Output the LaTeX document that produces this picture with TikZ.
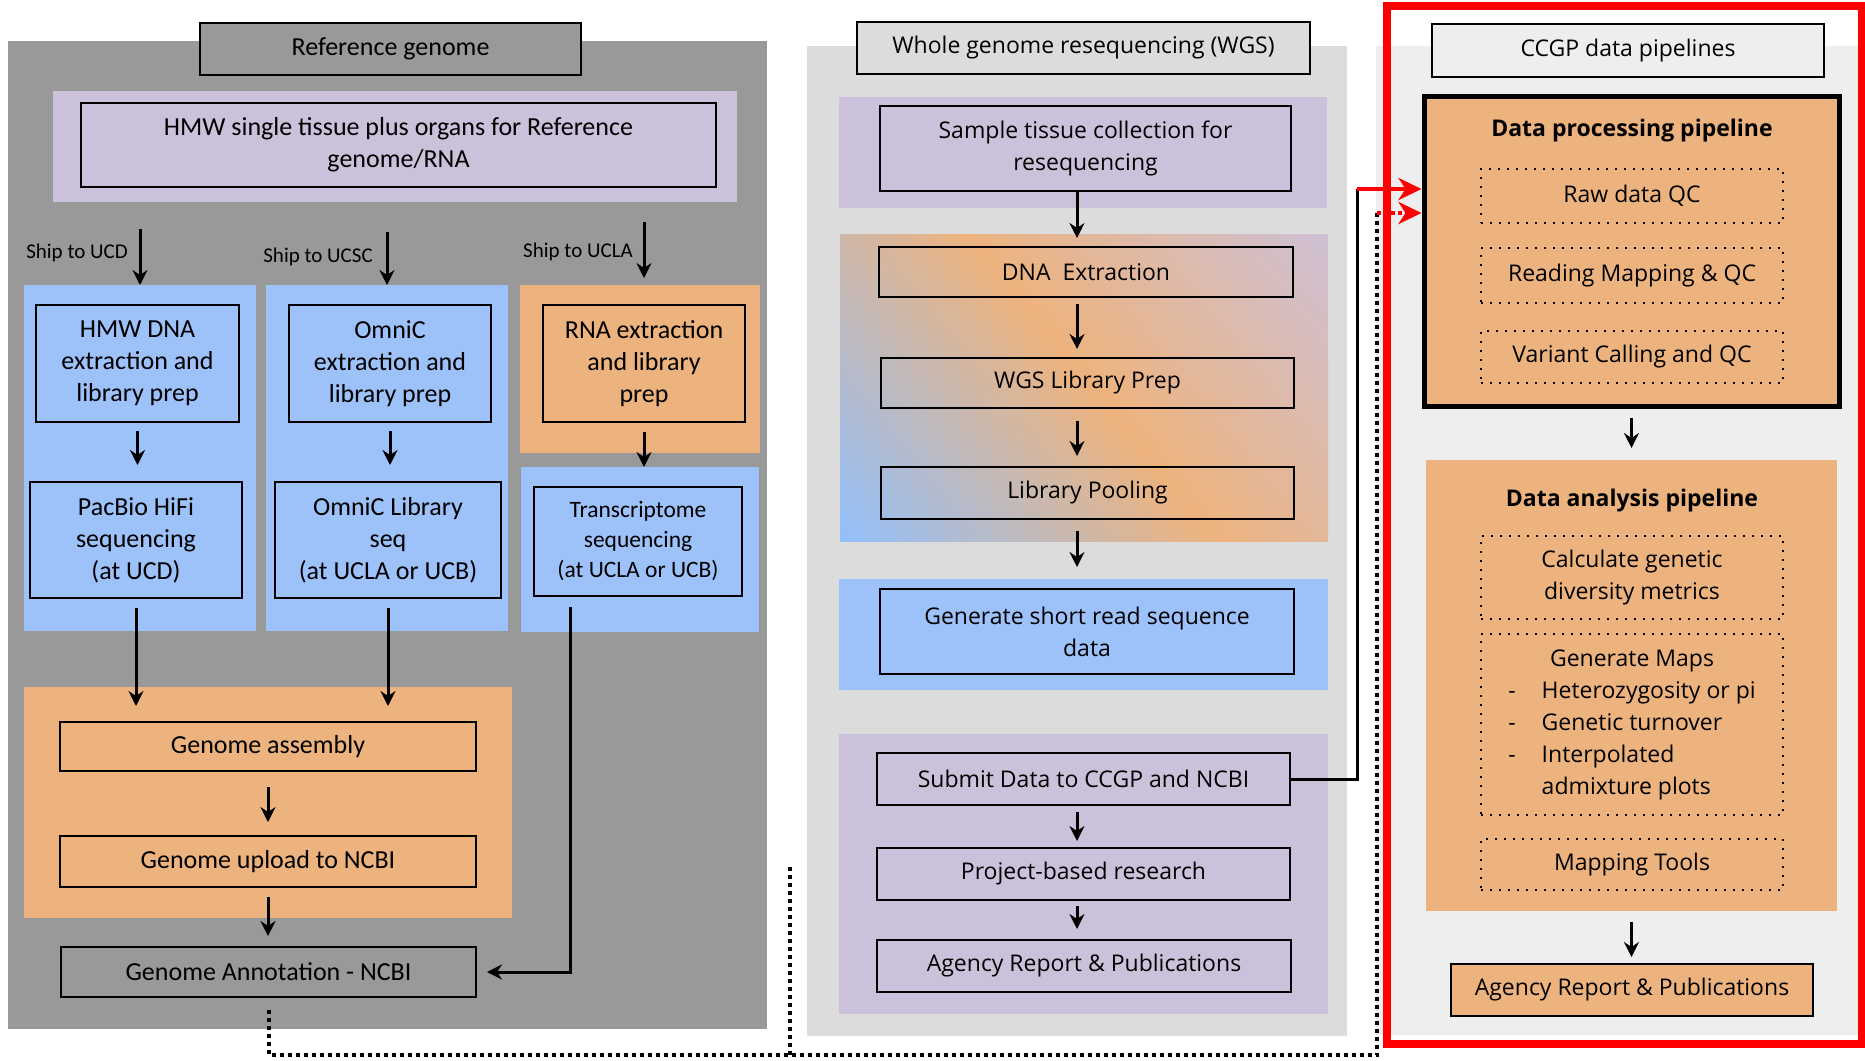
\documentclass[tikz,border=0pt]{standalone}
\usepackage{fontspec}
\setmainfont{Carlito}
\newfontfamily\osans{Open Sans}
\usetikzlibrary{arrows.meta}
\usetikzlibrary{positioning}
\definecolor{panelgray}{HTML}{999999}
\definecolor{midgray}{HTML}{DCDCDC}
\definecolor{rightgray}{HTML}{EEEEEE}
\definecolor{lav}{HTML}{CCC1DA}
\definecolor{skyblue}{RGB}{157,193,249}
\definecolor{peach}{RGB}{237,179,126}
\definecolor{gradblue}{RGB}{143,192,255}

\begin{document}
\begin{tikzpicture}[x=1pt,y=-1pt,
        box/.style={draw, line width=2pt, inner sep=0pt, align=center, font={\fontsize{26}{32}\selectfont}},
        mbox/.style={box, font={\osans\fontsize{23}{32}\selectfont}},
        dotbox/.style={draw, line width=2pt, dash pattern=on 2pt off 7pt, inner sep=0pt, align=center, minimum width=302, font={\osans\fontsize{23}{32}\selectfont}},
        band/.style={inner sep=0pt, outer sep=0pt},
        ship/.style={inner sep=0pt, font={\fontsize{21}{25}\selectfont}},
        boldtitle/.style={inner sep=0pt, font={\osans\bfseries\fontsize{23}{32}\selectfont}},
        arr/.style={line width=3pt, -{Stealth[length=15pt,width=15pt,inset=5pt]}},
        redarr/.style={red, line width=4pt, -{Stealth[length=23pt,width=22pt,inset=7pt]}},
        dotline/.style={line width=4pt, dash pattern=on 4pt off 4pt}]
            \useasboundingbox (0,0) rectangle (1865,1060);

            % reference genome
            \node[band, fill=panelgray, minimum width=759, minimum height=988] (panelL) at (387.5,535) {};
            \node[box, fill=panelgray, minimum width=381, minimum height=52] (refgen) at (390.5,49) {Reference genome};
            \node[band, fill=lav, minimum width=684, minimum height=111] (tissueband) at (395,146.5) {};
            \node[box, minimum width=635, minimum height=84] (tissue) at (398.5,145) {HMW single tissue plus organs for Reference\\genome/RNA};

            \node[band, fill=skyblue, minimum width=232, minimum height=346] (ucdband) at (140,458) {};
            \node[band, fill=skyblue, minimum width=242, minimum height=346] (ucscband) at (387,458) {};
            \node[band, fill=peach, minimum width=240, minimum height=168] (uclaband) at (640,369) {};
            \node[band, fill=skyblue, minimum width=238, minimum height=165] (transband) at (640,549.5) {};
            \node[band, fill=peach, minimum width=488, minimum height=231] (asmband) at (268,802.5) {};

            \node[box, minimum width=203, minimum height=117] (hmwdna) at (137.5,363.5) {HMW DNA\\extraction and\\library prep};
            \node[box, minimum width=212, minimum height=116] (pacbio) at (136,540) {PacBio HiFi\\sequencing\\(at UCD)};
            \node[box, minimum width=202, minimum height=117] (omnicext) at (390,363.5) {OmniC\\extraction and\\library prep};
            \node[box, minimum width=226, minimum height=116] (omnicseq) at (388,540) {OmniC Library\\seq\\(at UCLA or UCB)};
            \node[box, minimum width=202, minimum height=117] (rnaext) at (644,363.5) {RNA extraction\\and library\\prep};
            \node[box, minimum width=208, minimum height=109, font={\fontsize{23.5}{30}\selectfont}] (transseq) at (638,541.5) {Transcriptome\\sequencing\\(at UCLA or UCB)};
            \node[box, minimum width=416, minimum height=49] (assembly) at (268,746.5) {Genome assembly};
            \node[box, minimum width=416, minimum height=51] (upload) at (268,861.5) {Genome upload to NCBI};
            \node[box, fill=panelgray, minimum width=415, minimum height=50] (annot) at (268.5,972) {Genome Annotation - NCBI};

            \coordinate (ucdtop) at (140,229);
            \coordinate (ucsctop) at (387,232);
            \coordinate (uclatop) at (644,222);
            \node[ship, anchor=east] (ucdlbl) at (128,253) {Ship to UCD};
            \node[ship, anchor=east] (ucsclbl) at (373,257) {Ship to UCSC};
            \node[ship, anchor=east] (uclalbl) at (633,252) {Ship to UCLA};
            \draw[arr] (ucdtop) -- (ucdtop |- ucdband.north);
            \draw[arr] (ucsctop) -- (ucsctop |- ucscband.north);
            \draw[arr, shorten >=7pt] (uclatop) -- (uclatop |- uclaband.north);

            \draw[arr, shorten <=8pt, shorten >=16pt] (hmwdna.south) -- (hmwdna.south |- pacbio.north);
            \draw[arr, shorten <=8pt, shorten >=16pt] (omnicext.south) -- (omnicext.south |- omnicseq.north);
            \draw[arr, shorten <=9pt] (rnaext.south) -- (rnaext.south |- transband.north);
            \draw[arr, shorten <=9pt, shorten >=15pt] (pacbio.south) -- (pacbio.south |- assembly.north);
            \draw[arr, shorten <=9pt, shorten >=15pt] (omnicseq.south) -- (omnicseq.south |- assembly.north);
            \draw[arr, shorten <=15pt, shorten >=13pt] (assembly.south) -- (assembly.south |- upload.north);
            \draw[arr, shorten <=9pt, shorten >=10pt] (upload.south) -- (upload.south |- annot.north);
            \draw[arr, shorten <=10pt, shorten >=10pt] ([xshift=-68pt]transseq.south) |- (annot.east);

            % whole genome resequencing
            \node[band, fill=midgray, minimum width=540, minimum height=990] (panelM) at (1077,541) {};
            \node[mbox, fill=midgray, minimum width=453, minimum height=52] (wgstitle) at (1083.5,48) {Whole genome resequencing (WGS)};
            \node[band, fill=lav, minimum width=488, minimum height=111] (sampleband) at (1083,152.5) {};
            \node[mbox, minimum width=411, minimum height=85] (sample) at (1085.5,148.5) {Sample tissue collection for\\resequencing};

            \begin{scope}
                \clip (840,234) rectangle (1328,541);
                \shade[left color=gradblue, right color=lav, middle color=peach, shading angle=129] (788,84.5) rectangle (1388,684.5);
            \end{scope}
            \node[band, minimum width=488, minimum height=307] (libband) at (1084,387.5) {};
            \node[mbox, minimum width=414, minimum height=50] (dnaext) at (1086,272) {DNA~ Extraction};
            \node[mbox, minimum width=413, minimum height=50] (libprep) at (1087.5,383) {WGS Library Prep};
            \node[mbox, minimum width=413, minimum height=52] (pooling) at (1087.5,493) {Library Pooling};

            \node[band, fill=skyblue, minimum width=489, minimum height=111] (genband) at (1083.5,634.5) {};
            \node[mbox, minimum width=414, minimum height=85] (shortread) at (1087,631.5) {Generate short read sequence\\data};

            \node[band, fill=lav, minimum width=489, minimum height=280] (pubband) at (1083.5,874) {};
            \node[mbox, minimum width=413, minimum height=52] (submit) at (1083.5,779) {Submit Data to CCGP and NCBI};
            \node[mbox, minimum width=413, minimum height=52] (research) at (1083.5,874) {Project-based research};
            \node[mbox, minimum width=414, minimum height=52] (agencyM) at (1084,966) {Agency Report \& Publications};

            \coordinate (midx) at (1077,0);
            \draw[arr, shorten >=8pt] (sample.south -| midx) -- (midx |- dnaext.north);
            \draw[arr, shorten <=6pt, shorten >=8pt] (dnaext.south -| midx) -- (midx |- libprep.north);
            \draw[arr, shorten <=12pt, shorten >=10pt] (libprep.south -| midx) -- (midx |- pooling.north);
            \draw[arr, shorten <=11pt, shorten >=12pt] (pooling.south -| midx) -- (midx |- genband.north);
            \draw[arr, shorten <=6pt, shorten >=6pt] (submit.south -| midx) -- (midx |- research.north);
            \draw[arr, shorten <=5pt, shorten >=10pt] (research.south -| midx) -- (midx |- agencyM.north);

            % CCGP data pipelines
            \node[band, fill=rightgray, minimum width=484, minimum height=989] (panelR) at (1618,540.5) {};
            \node[mbox, fill=rightgray, minimum width=392, minimum height=53] (ccgptitle) at (1628,50.5) {CCGP data pipelines};
            \node[draw, line width=5pt, fill=peach, inner sep=0pt, minimum width=415, minimum height=310] (procbox) at (1631.5,251) {};
            \node[boldtitle] (proctitle) at (1632,131) {Data processing pipeline};
            \node[dotbox, minimum height=54] (rawqc) at (1632,196) {Raw data QC};
            \node[dotbox, minimum height=55] (readmap) at (1632,275.5) {Reading Mapping \& QC};
            \node[dotbox, minimum height=52] (varcall) at (1632,357) {Variant Calling and QC};

            \node[band, fill=peach, minimum width=411, minimum height=451] (anaband) at (1631.5,685.5) {};
            \node[boldtitle] (anatitle) at (1632,501) {Data analysis pipeline};
            \node[dotbox, minimum height=83] (diversity) at (1632,577.5) {Calculate genetic\\diversity metrics};
            \node[dotbox, minimum height=181] (maps) at (1632,724.5) {\begin{tabular}{@{}l@{\hspace{26pt}}l@{}}
                \multicolumn{2}{c}{Generate Maps}\\
                -&Heterozygosity or pi\\
                -&Genetic turnover\\
                -&Interpolated\\
                 &admixture plots
            \end{tabular}};
            \node[dotbox, minimum height=51] (maptools) at (1632,864.5) {Mapping Tools};
            \node[mbox, fill=peach, minimum width=362, minimum height=52] (agencyR) at (1632,990) {Agency Report \& Publications};

            \draw[arr, shorten <=9pt, shorten >=12pt] (procbox.south) -- (procbox.south |- anaband.north);
            \draw[arr, shorten <=11pt, shorten >=6pt] (anaband.south) -- (anaband.south |- agencyR.north);

            \draw[red, line width=8pt] (1387,6) rectangle (1862,1044);

            % links between the panels
            \coordinate (bend) at (1357,189);
            \draw[line width=3pt] (submit.east) -| (bend);
            \draw[redarr] (bend) -- (bend -| procbox.west);

            \coordinate (dotbottom) at (0,1055);
            \coordinate (dotturn) at (1377,213);
            \coordinate (branchtop) at (790,867);
            \draw[dotline, shorten <=12pt] (annot.south) |- (dotbottom -| dotturn) -- (dotturn);
            \draw[dotline] (branchtop) -- (branchtop |- dotbottom);
            \draw[redarr, dash pattern=on 4pt off 3pt] (dotturn) -- (dotturn -| procbox.west);
        \end{tikzpicture}
\end{document}
